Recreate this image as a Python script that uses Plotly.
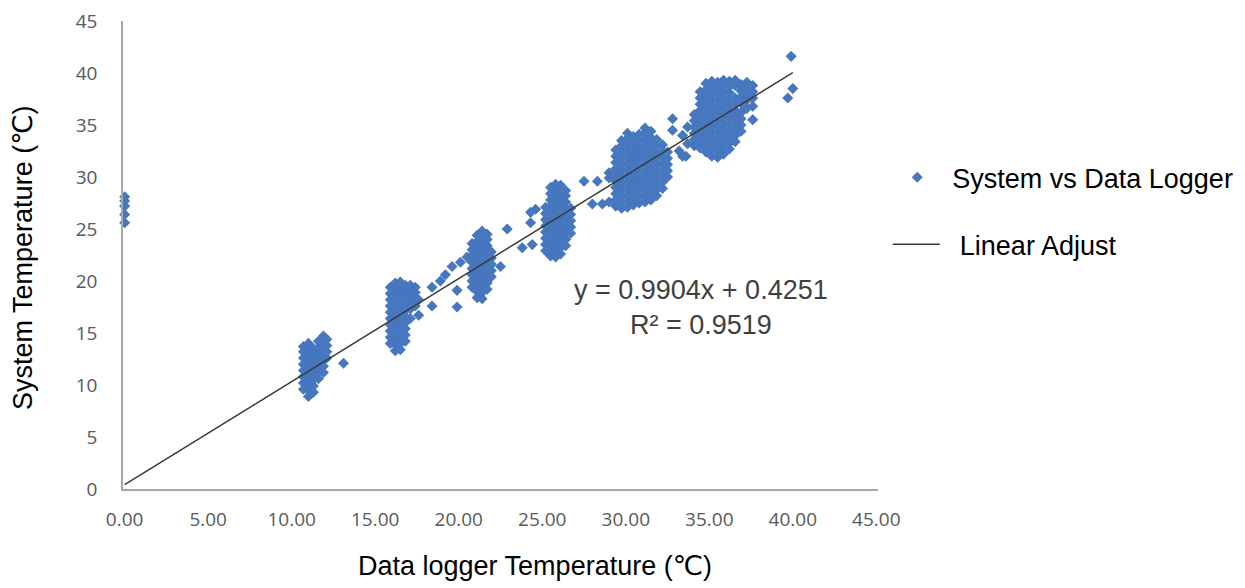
import plotly.graph_objects as go

# ---- data: (logger temperature, [system temperatures]) ----
cluster_00 = [(0.0, [25.6, 26.4, 27.2, 27.7, 28.1])]

cluster_11 = [
    (10.7, [9.6, 10.2, 10.8, 11.4, 12.0, 12.6, 13.2, 13.7]),
    (11.0, [8.9, 9.5, 10.1, 10.7, 11.3, 11.9, 12.5, 13.1, 13.7, 14.0]),
    (11.3, [9.3, 9.9, 10.5, 11.1, 11.7, 12.3, 12.9, 13.5]),
    (11.6, [10.6, 11.2, 11.8, 12.4, 13.0, 13.6, 14.2]),
    (11.9, [11.2, 11.8, 12.4, 13.0, 13.6, 14.2, 14.7]),
    (12.1, [12.6, 13.2, 13.8, 14.4]),
    (13.1, [12.1]),
]

cluster_16 = [
    (15.9, [14.0, 14.6, 15.2, 15.8, 16.4, 17.0, 17.6, 18.2, 18.8, 19.4]),
    (16.2, [13.3, 13.9, 14.5, 15.1, 15.7, 16.3, 16.9, 17.5, 18.1, 18.7, 19.3, 19.8]),
    (16.5, [13.4, 14.0, 14.6, 15.2, 15.8, 16.4, 17.0, 17.6, 18.2, 18.8, 19.4, 19.9]),
    (16.8, [14.2, 14.8, 15.4, 16.0, 16.6, 17.2, 17.8, 18.4, 19.0, 19.6]),
    (17.1, [16.4, 17.3, 17.9, 18.5, 19.1, 19.6]),
    (17.4, [17.6, 18.3, 18.9, 19.4]),
    (17.6, [16.7, 18.2]),
    (18.4, [17.6, 19.4]),
    (18.9, [20.0]),
    (19.2, [20.6]),
    (19.6, [21.4]),
    (19.9, [17.5, 19.1]),
    (20.1, [21.8]),
    (20.5, [22.3]),
]

cluster_21 = [
    (20.8, [19.4, 20.0, 20.6, 21.2, 21.8, 22.4, 23.0, 23.6]),
    (21.1, [18.4, 19.0, 19.6, 20.2, 20.8, 21.4, 22.0, 22.6, 23.2, 23.8, 24.4]),
    (21.4, [18.3, 18.9, 19.5, 20.1, 20.7, 21.3, 21.9, 22.5, 23.1, 23.7, 24.3, 24.8]),
    (21.7, [19.2, 19.8, 20.4, 21.0, 21.6, 22.2, 22.8, 23.4, 24.0, 24.5]),
    (21.95, [20.4, 21.0, 21.6, 22.2, 22.8]),
    (22.5, [21.4]),
    (22.9, [25.0]),
    (23.8, [23.2]),
    (24.3, [25.6, 26.6]),
    (24.4, [23.5]),
    (24.6, [26.9]),
]

cluster_26 = [
    (25.2, [22.9, 23.5, 24.1, 24.7, 25.3, 25.9, 26.5, 27.1]),
    (25.5, [22.4, 23.0, 23.6, 24.2, 24.8, 25.4, 26.0, 26.6, 27.2, 27.8, 28.4, 29.0]),
    (25.8, [22.3, 22.9, 23.5, 24.1, 24.7, 25.3, 25.9, 26.5, 27.1, 27.7, 28.3, 28.9, 29.3]),
    (26.1, [22.6, 23.2, 23.8, 24.4, 25.0, 25.6, 26.2, 26.8, 27.4, 28.0, 28.6, 29.2]),
    (26.4, [23.4, 24.0, 24.6, 25.2, 25.8, 26.4, 27.0, 27.6, 28.2, 28.7]),
    (26.7, [24.6, 25.2, 25.8, 26.4, 27.0]),
    (27.5, [29.6]),
    (28.0, [27.4]),
    (28.3, [29.6]),
    (28.6, [27.4]),
    (29.0, [27.6, 29.9, 30.4]),
]

cluster_31 = [
    (29.4, [27.2, 27.8, 28.4, 29.0, 29.6, 30.2, 30.8, 31.4, 32.0, 32.6]),
    (29.75, [27.0, 27.6, 28.2, 28.8, 29.4, 30.0, 30.6, 31.2, 31.8, 32.4, 33.0, 33.5]),
    (30.1, [27.1, 27.7, 28.3, 28.9, 29.5, 30.1, 30.7, 31.3, 31.9, 32.5, 33.1, 33.7, 34.2]),
    (30.45, [27.3, 27.9, 28.5, 29.1, 29.7, 30.3, 30.9, 31.5, 32.1, 32.7, 33.3, 33.9]),
    (30.8, [27.5, 28.1, 28.7, 29.3, 29.9, 30.5, 31.1, 31.7, 32.3, 32.9, 33.5, 34.1]),
    (31.15, [27.6, 28.2, 28.8, 29.4, 30.0, 30.6, 31.2, 31.8, 32.4, 33.0, 33.6, 34.2, 34.7]),
    (31.5, [27.8, 28.4, 29.0, 29.6, 30.2, 30.8, 31.4, 32.0, 32.6, 33.2, 33.8, 34.4]),
    (31.85, [28.2, 28.8, 29.4, 30.0, 30.6, 31.2, 31.8, 32.4, 33.0, 33.6]),
    (32.2, [28.9, 29.5, 30.1, 30.7, 31.3, 31.9, 32.5, 33.1]),
    (32.5, [30.0, 30.6, 31.2, 31.8, 32.4]),
    (32.8, [34.5, 35.6]),
    (33.2, [32.5]),
    (33.4, [34.0]),
    (33.6, [32.0]),
]

cluster_36 = [
    (33.4, [32.0]),
    (33.7, [33.2, 34.8]),
    (34.1, [33.0, 33.6, 34.2, 34.8, 35.4, 36.0]),
    (34.45, [32.8, 33.4, 34.0, 34.6, 35.2, 35.8, 36.4, 37.0, 37.6, 38.2]),
    (34.8, [32.4, 33.0, 33.6, 34.2, 34.8, 35.4, 36.0, 36.6, 37.2, 37.8, 38.4, 39.0]),
    (35.15, [32.0, 32.6, 33.2, 33.8, 34.4, 35.0, 35.6, 36.2, 36.8, 37.4, 38.0, 38.6, 39.2]),
    (35.5, [31.9, 32.5, 33.1, 33.7, 34.3, 34.9, 35.5, 36.1, 36.7, 37.3, 37.9, 38.5, 39.1]),
    (35.85, [32.2, 32.8, 33.4, 34.0, 34.6, 35.2, 35.8, 36.4, 37.0, 37.6, 38.2, 38.8, 39.3]),
    (36.2, [32.7, 33.3, 33.9, 34.5, 35.1, 35.7, 36.3, 36.9, 37.5, 38.1, 38.7, 39.2]),
    (36.55, [33.4, 34.0, 34.6, 35.2, 35.8, 36.4, 37.0, 37.6, 38.8, 39.3]),
    (36.9, [34.4, 35.0, 35.6, 36.2, 37.1, 37.7, 38.3, 38.9]),
    (37.25, [36.6, 37.4, 38.0, 38.6, 39.1]),
    (37.6, [35.5, 36.8, 37.6, 38.2, 38.8]),
]

cluster_40 = [(39.7, [37.6]), (39.9, [41.6]), (40.0, [38.5])]

# trend line end points as drawn (y = 0.9904x + 0.4251)
trend_logger = [0.0, 40.0]
trend_system = [0.43, 40.04]

x_tick_values = [0, 5, 10, 15, 20, 25, 30, 35, 40, 45]
y_tick_values = [0, 5, 10, 15, 20, 25, 30, 35, 40, 45]

equation_text = "y = 0.9904x + 0.4251<br>R² = 0.9519"

# ---- build scatter table ----
logger_temp, system_temp = [], []
for cluster in [cluster_00, cluster_11, cluster_16, cluster_21, cluster_26,
                cluster_31, cluster_36, cluster_40]:
    for xv, ys in cluster:
        for yv in ys:
            logger_temp.append(xv)
            system_temp.append(yv)

BLUE = "#4677BF"
TEXT_FONT = "Liberation Sans, Arial, DejaVu Sans, sans-serif"

# the page body adds an 8px offset; the figure is sized to the rest of the window
W, H = 1237, 580

fig = go.Figure()
fig.add_trace(go.Scatter(
    x=logger_temp, y=system_temp, mode="markers",
    name="\u00a0\u00a0System vs Data Logger", showlegend=True,
    marker=dict(symbol="diamond", size=8.5, color=BLUE, line=dict(width=0)),
    cliponaxis=False, legend="legend",
))
fig.add_trace(go.Scatter(
    x=trend_logger, y=trend_system, mode="lines",
    name="\u00a0\u00a0Linear Adjust", showlegend=True,
    line=dict(color="#3a3a3a", width=1.5),
    legend="legend2",
))

fig.update_layout(
    width=W, height=H, showlegend=True,
    margin=dict(l=115, r=367, t=13, b=99, autoexpand=False),
    paper_bgcolor="white", plot_bgcolor="white",
    font=dict(family=TEXT_FONT, color="black"),
    legend=dict(x=1.0255, y=0.665, xanchor="left", yanchor="middle",
                font=dict(size=27, family=TEXT_FONT, color="black"),
                bgcolor="rgba(0,0,0,0)", borderwidth=0),
    legend2=dict(x=1.013, y=0.522, xanchor="left", yanchor="middle",
                 font=dict(size=27, family=TEXT_FONT, color="black"),
                 bgcolor="rgba(0,0,0,0)", borderwidth=0, itemwidth=47),
    xaxis=dict(range=[-0.1, 45.1], tickvals=x_tick_values, tickformat=".2f",
               showline=True, linecolor="#a6a6a6", linewidth=1.5,
               showgrid=False, zeroline=False, ticks="", automargin=False,
               ticklabelstandoff=12, ticklabeloverflow="allow",
               tickfont=dict(family="Open Sans, sans-serif", size=19, color="#595959")),
    yaxis=dict(range=[0, 45], tickvals=y_tick_values,
               showline=True, linecolor="#a6a6a6", linewidth=1.5,
               showgrid=False, zeroline=False, ticks="", automargin=False,
               ticklabelstandoff=20, ticklabeloverflow="allow",
               tickfont=dict(family="Open Sans, sans-serif", size=19, color="#595959")),
    annotations=[
        dict(text="Data logger Temperature (\u2103)", xref="paper", yref="paper",
             x=0.5457, y=-0.165, xanchor="center", yanchor="middle", showarrow=False,
             font=dict(size=27, family=TEXT_FONT, color="black")),
        dict(text="System Temperature (\u2103)", xref="paper", yref="paper",
             x=-0.1325, y=0.4936, xanchor="center", yanchor="middle", showarrow=False,
             textangle=-90, font=dict(size=27, family=TEXT_FONT, color="black")),
        dict(text=equation_text, xref="x", yref="y", x=34.5, y=17.45,
             xanchor="center", yanchor="middle", showarrow=False, align="center",
             font=dict(size=27, family=TEXT_FONT, color="#404040")),
    ],
)

fig.write_html("out.html")
